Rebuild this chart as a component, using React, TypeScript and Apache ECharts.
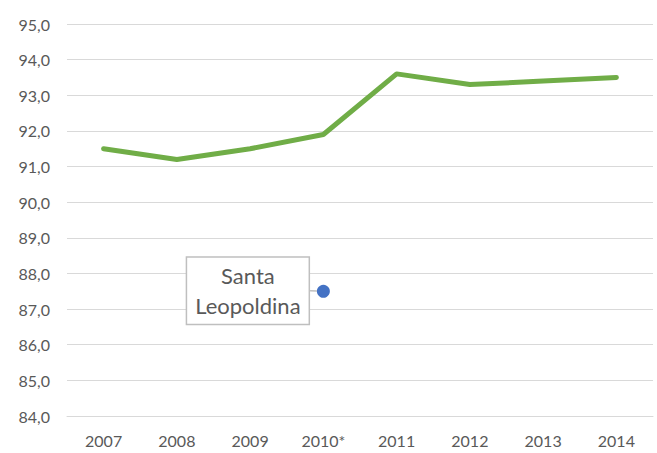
import React, { useEffect, useRef } from "react";
import * as echarts from "echarts";

const categories = ["2007", "2008", "2009", "2010*", "2011", "2012", "2013", "2014"];
const lineValues = [91.5, 91.2, 91.5, 91.9, 93.6, 93.3, 93.4, 93.5];
const pointCategory = "2010*";
const pointValue = 87.5;
const pointName = "Santa\nLeopoldina";

export default function App() {
  const ref = useRef<HTMLDivElement>(null);
  useEffect(() => {
    if (!ref.current) return;
    const chart = echarts.init(ref.current, null, { renderer: "svg" });
    const font = "Lato, 'Open Sans', sans-serif";
    chart.setOption({
      animation: false,
      backgroundColor: "#ffffff",
      grid: { left: 67, right: 4, top: 24, bottom: 37, containLabel: false },
      xAxis: {
        type: "category",
        data: categories,
        boundaryGap: true,
        axisLine: { show: true, lineStyle: { color: "#d9d9d9", width: 1 } },
        axisTick: { show: false },
        axisLabel: { color: "#595959", fontSize: 16, fontFamily: font, margin: 16 },
      },
      yAxis: {
        type: "value",
        min: 84,
        max: 95,
        interval: 1,
        axisLine: { show: false },
        axisTick: { show: false },
        splitLine: { lineStyle: { color: "#d9d9d9", width: 1 } },
        axisLabel: {
          color: "#595959",
          fontSize: 16,
          fontFamily: font,
          margin: 17,
          formatter: (v: number) => v.toFixed(1).replace(".", ","),
        },
      },
      series: [
        {
          type: "line",
          data: lineValues,
          symbol: "none",
          lineStyle: { color: "#70AD47", width: 5, cap: "round", join: "round" },
          z: 2,
        },
        {
          type: "scatter",
          data: [[pointCategory, pointValue]],
          symbolSize: 13,
          itemStyle: { color: "#4472C4", opacity: 1 },
          label: {
            show: true,
            position: [-69, 6],
            formatter: () => pointName,
            color: "#595959",
            fontSize: 22,
            fontFamily: font,
            lineHeight: 30,
            align: "center",
            verticalAlign: "middle",
            backgroundColor: "#ffffff",
            borderColor: "#bfbfbf",
            borderWidth: 1.5,
            padding: [3, 8, 3, 8],
          },
          labelLine: { show: true, lineStyle: { color: "#bfbfbf", width: 1.5 } },
          labelLayout: { dx: 0, dy: 0 },
          z: 3,
        },
      ],
    });
    return () => chart.dispose();
  }, []);
  return <div ref={ref} style={{ width: 657, height: 453, position: "absolute", left: 0, top: 0 }} />;
}
